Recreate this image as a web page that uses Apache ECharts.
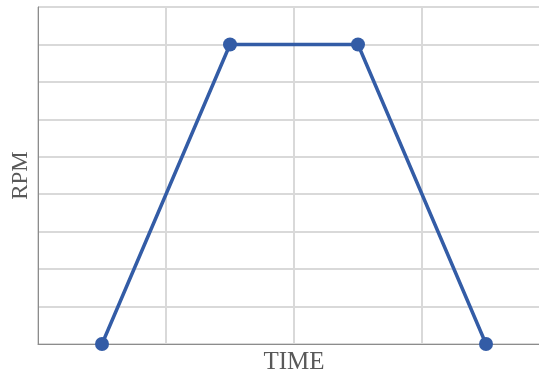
<!DOCTYPE html>
<html>
<head>
<meta charset="utf-8">
<script src="https://cdn.jsdelivr.net/npm/echarts@6/dist/echarts.min.js"></script>
<style>html,body{margin:0;padding:0;background:#fff}#c{width:539px;height:375px}</style>
</head>
<body>
<div id="c"></div>
<script>
var timePoints = [0.5, 1.5, 2.5, 3.5];
var rpmValues = [0, 8, 8, 0];
var xTitle = 'TIME';
var yTitle = 'RPM';

var chart = echarts.init(document.getElementById('c'), null, {renderer: 'canvas'});
chart.setOption({
  animation: false,
  backgroundColor: '#ffffff',
  grid: {left: 38, right: -11, top: 7, bottom: 31, containLabel: false, outerBoundsMode: 'none', show: true, borderColor: '#8c8c8c', borderWidth: 1, backgroundColor: 'transparent'},
  xAxis: {
    type: 'value', min: 0, max: 4, interval: 1,
    name: xTitle, nameLocation: 'middle', nameGap: 6,
    nameTextStyle: {fontFamily: 'Liberation Serif', fontSize: 25, color: '#595959'},
    axisLine: {show: true, lineStyle: {color: '#8c8c8c', width: 1}},
    axisTick: {show: false}, axisLabel: {show: false},
    splitLine: {show: true, lineStyle: {color: '#d9d9d9', width: 2}}
  },
  yAxis: {
    type: 'value', min: 0, max: 9, interval: 1,
    name: yTitle, nameLocation: 'middle', nameGap: 6,
    nameTextStyle: {fontFamily: 'Liberation Serif', fontSize: 23, color: '#595959'},
    axisLine: {show: true, lineStyle: {color: '#8c8c8c', width: 1}},
    axisTick: {show: false}, axisLabel: {show: false},
    splitLine: {show: true, lineStyle: {color: '#d9d9d9', width: 2}}
  },
  series: [{
    type: 'line',
    data: timePoints.map(function (t, i) { return [t, rpmValues[i]]; }),
    symbol: 'circle', symbolSize: 14,
    lineStyle: {color: '#335ca6', width: 3.5},
    itemStyle: {color: '#335ca6'},
    clip: false
  }]
});
</script>
</body>
</html>
